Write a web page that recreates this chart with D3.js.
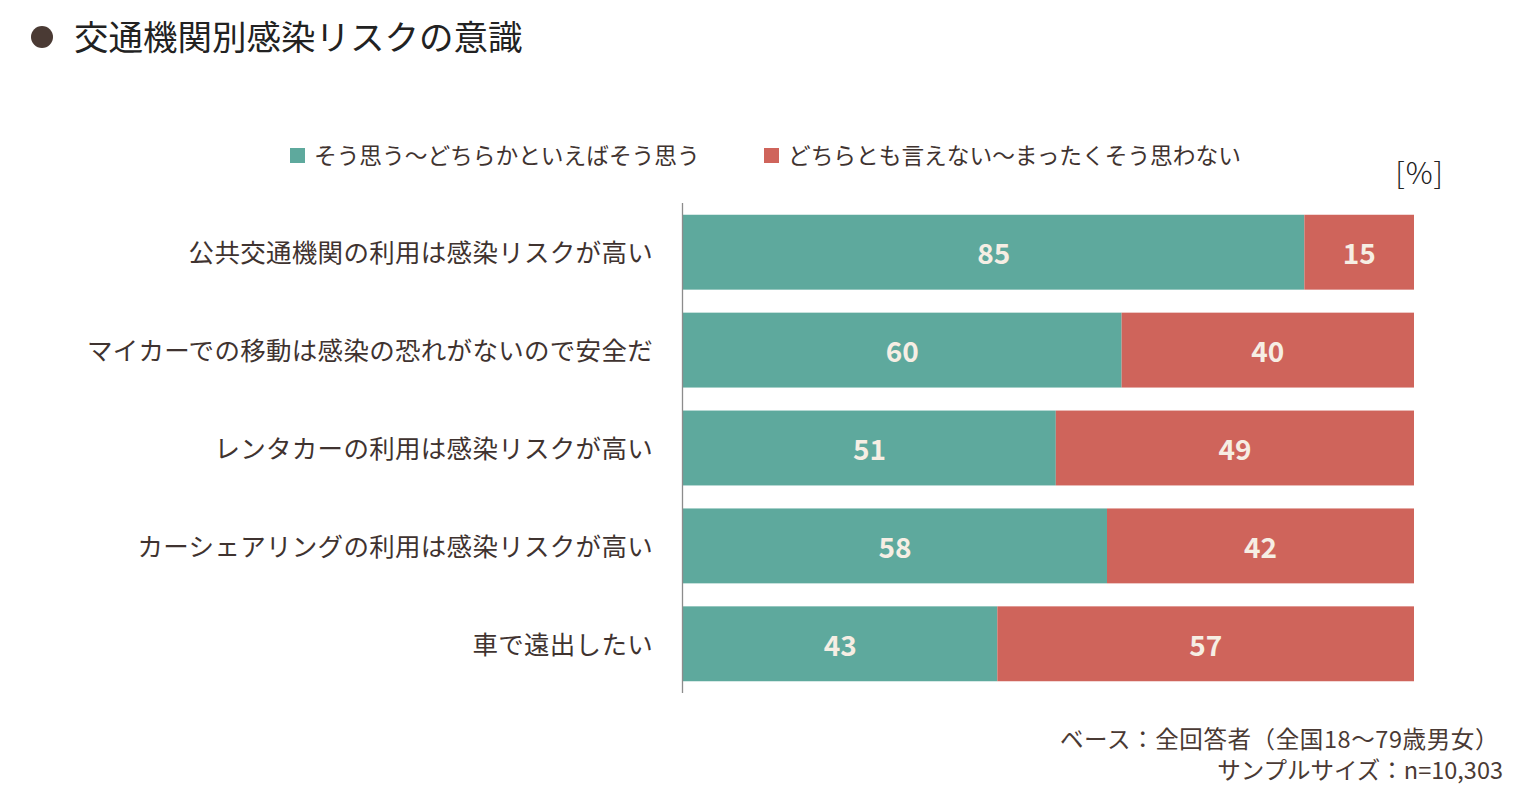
<!DOCTYPE html>
<html>
<head>
<meta charset="utf-8">
<script src="https://cdn.jsdelivr.net/npm/d3@7"></script>
<style>
  body { margin: 0; background: #fff; }
  text { font-family: "Noto Sans CJK JP", "Noto Sans", sans-serif; }
</style>
</head>
<body>
<svg id="chart" width="1521" height="799"></svg>
<script>
// data
const categories = [
    "公共交通機関の利用は感染リスクが高い",
    "マイカーでの移動は感染の恐れがないので安全だ",
    "レンタカーの利用は感染リスクが高い",
    "カーシェアリングの利用は感染リスクが高い",
    "車で遠出したい"
];
const agree = [85, 60, 51, 58, 43];
const disagree = [15, 40, 49, 42, 57];
const seriesNames = ["そう思う～どちらかといえばそう思う", "どちらとも言えない～まったくそう思わない"];
const colors = ["#5ea99d", "#cf645b"];

const svg = d3.select("#chart");
const textColor = "#3f3330";

// title
svg.append("circle").attr("cx", 42).attr("cy", 37).attr("r", 11).attr("fill", "#4a3a34");
svg.append("text")
    .attr("x", 74).attr("y", 50)
    .attr("font-size", 34.5)
    .attr("fill", "#222")
    .text("交通機関別感染リスクの意識");

// scales
const x = d3.scaleLinear().domain([0, 100]).range([683, 1414]);
const y = d3.scaleBand().domain(categories).range([203, 693]).paddingInner(0.235).paddingOuter(0.12);

const rows = categories.map((c, i) => ({cat: c, vals: [agree[i], disagree[i]]}));

const g = svg.append("g");
rows.forEach(r => {
    let start = 0;
    r.vals.forEach((v, k) => {
        g.append("rect")
            .attr("x", x(start))
            .attr("y", y(r.cat))
            .attr("width", x(start + v) - x(start))
            .attr("height", y.bandwidth())
            .attr("fill", colors[k]);
        g.append("text")
            .attr("x", (x(start) + x(start + v)) / 2)
            .attr("y", y(r.cat) + y.bandwidth() / 2 + 12)
            .attr("text-anchor", "middle")
            .attr("font-size", 28)
            .attr("font-weight", "bold")
            .attr("fill", "#f6eee4")
            .text(v);
        start += v;
    });
});

// axis line
svg.append("line")
    .attr("x1", 682.5).attr("x2", 682.5)
    .attr("y1", 203).attr("y2", 693)
    .attr("stroke", "#8c8c8c").attr("stroke-width", 1.3);

// category labels
svg.selectAll(".cat")
    .data(categories)
    .join("text")
    .attr("class", "cat")
    .attr("x", 653)
    .attr("y", d => y(d) + y.bandwidth() / 2 + 10)
    .attr("text-anchor", "end")
    .attr("font-size", 25.5)
    .attr("letter-spacing", 0.3)
    .attr("fill", textColor)
    .text(d => d);

// legend
const legendX = [290, 764];
seriesNames.forEach((n, k) => {
    svg.append("rect")
        .attr("x", legendX[k]).attr("y", 148)
        .attr("width", 15).attr("height", 15)
        .attr("fill", colors[k]);
    svg.append("text")
        .attr("x", legendX[k] + 24).attr("y", 164)
        .attr("font-size", 22.7)
        .attr("fill", textColor)
        .text(n);
});

// unit
svg.append("text")
    .attr("x", 1444).attr("y", 184)
    .attr("text-anchor", "end")
    .attr("font-size", 30)
    .attr("font-weight", 300)
    .attr("letter-spacing", 1)
    .attr("fill", "#222")
    .text("[%]");

// footnote
svg.append("text")
    .attr("x", 1499).attr("y", 748)
    .attr("text-anchor", "end")
    .attr("font-size", 23.5)
    .attr("letter-spacing", 0.6)
    .attr("fill", "#4a3a34")
    .text("ベース：全回答者（全国18～79歳男女）");
svg.append("text")
    .attr("x", 1503).attr("y", 779)
    .attr("text-anchor", "end")
    .attr("font-size", 23.5)
    .attr("fill", "#4a3a34")
    .text("サンプルサイズ：n=10,303");
</script>
</body>
</html>
